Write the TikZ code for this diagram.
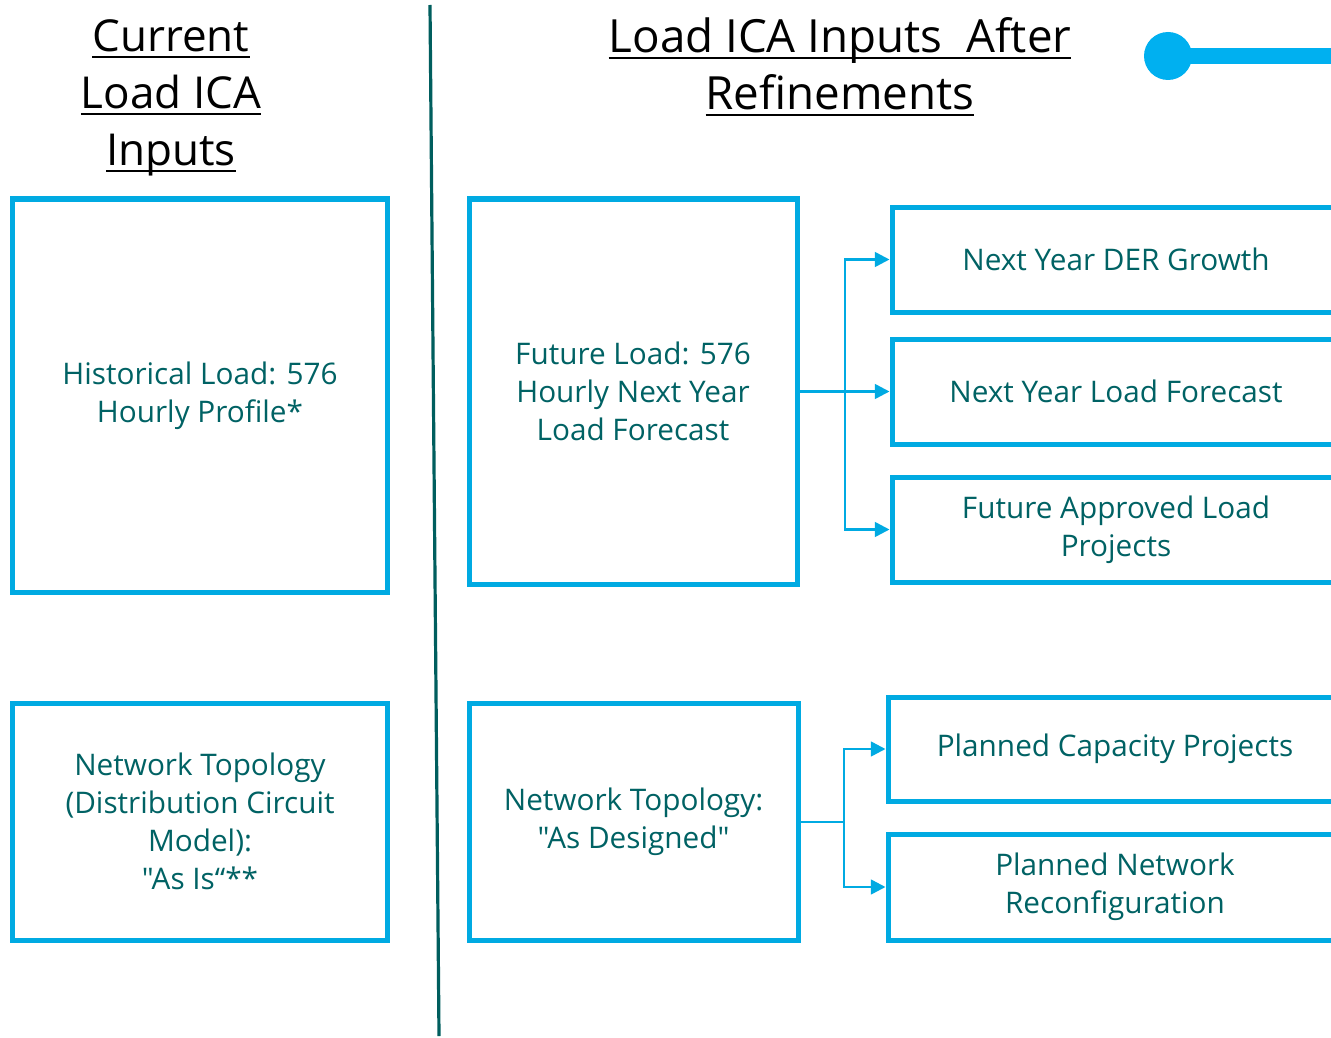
\documentclass[tikz,border=0pt]{standalone}
\usepackage{fontspec}
\setmainfont{Open Sans}[Ligatures=TeXOff]
\usetikzlibrary{arrows.meta}

\definecolor{boxblue}{RGB}{0,170,226}
\definecolor{dotblue}{RGB}{0,176,240}
\definecolor{tealtext}{RGB}{0,98,100}
\definecolor{divider}{RGB}{0,94,94}

% underline a word at a fixed depth below the baseline
\newcommand\underrule[1]{\setbox0\hbox{#1}\rlap{\rule[-4.5pt]{\wd0}{1.6pt}}\box0}

\tikzset{
  inbox/.style={draw=boxblue, line width=3.75pt, rectangle, align=center,
    text=tealtext, font=\fontsize{22.3}{28.6}\selectfont, inner sep=0pt},
  heading/.style={align=center, text=black, font=\fontsize{33}{42.75}\selectfont},
  feed/.style={draw=boxblue, line width=1.9pt, -{Triangle[length=11pt,width=11pt]}},
  trunk/.style={draw=boxblue, line width=1.9pt}
}

\begin{document}
\begin{tikzpicture}[x=0.75pt, y=-0.75pt]
  \useasboundingbox (0,0) rectangle (1331,1038);
  \clip (0,0) rectangle (1331,1038);
  \fill[white] (0,0) rectangle (1331,1038);

  % headings
  \node[heading] (hleft) at (171,98) {\underrule{Current}\\\underrule{Load ICA}\\\underrule{Inputs}};
  \node[heading, font=\fontsize{34.3}{42.75}\selectfont] (hright) at (840,67)
    {\underrule{Load ICA Inputs\ \ After}\\\underrule{Refinements}};

  % divider between the two columns
  \coordinate (dtop) at (430,5);
  \coordinate (dbot) at (439,1036);
  \draw[divider, line width=2.4pt] (dtop) -- (dbot);

  % decorative dot and bar
  \node[circle, fill=dotblue, minimum size=36pt, inner sep=0pt] (dot) at (1168,56) {};
  \coordinate (barend) at (1340,56);
  \draw[dotblue, line width=12pt] (dot.center) -- (barend);

  % current inputs
  \node[inbox, minimum width=281.25pt, minimum height=294.75pt] (hist) at (200,395.5)
    {Historical Load: 576\\Hourly Profile*};
  \node[inbox, minimum width=281.6pt, minimum height=177.75pt] (topo) at (200,821.5)
    {Network Topology\\(Distribution Circuit\\Model):\\"As Is“**};

  % refined inputs
  \node[inbox, minimum width=246pt, minimum height=288.75pt] (future) at (633,391.5)
    {Future Load: 576\\Hourly Next Year\\Load Forecast};
  \node[inbox, minimum width=246.75pt, minimum height=177.75pt] (design) at (633.5,821.5)
    {Network Topology:\\"As Designed"};

  \node[inbox, minimum width=336pt, minimum height=78.75pt] (der) at (1116,259.5)
    {Next Year DER Growth};
  \node[inbox, minimum width=336pt, minimum height=78.75pt] (lfc) at (1116,391.5)
    {Next Year Load Forecast};
  \node[inbox, minimum width=336pt, minimum height=78.75pt] (appr) at (1116,529.5)
    {Future Approved Load\\Projects};
  \node[inbox, minimum width=340.5pt, minimum height=78pt] (cap) at (1115,749)
    {Planned Capacity Projects};
  \node[inbox, minimum width=340.5pt, minimum height=79.5pt] (reconf) at (1115,887)
    {Planned Network\\Reconfiguration};

  % connectors
  \coordinate (hubA) at (845,392);
  \draw[feed] (future.east |- lfc.west) -- (lfc.west);
  \draw[feed] (hubA) |- (der.west);
  \draw[feed] (hubA) |- (appr.west);

  \coordinate (hubB) at (844,822);
  \draw[trunk] (design.east |- hubB) -- (hubB);
  \draw[feed] (hubB) |- (cap.west);
  \draw[feed] (hubB) |- (reconf.west);
\end{tikzpicture}
\end{document}
